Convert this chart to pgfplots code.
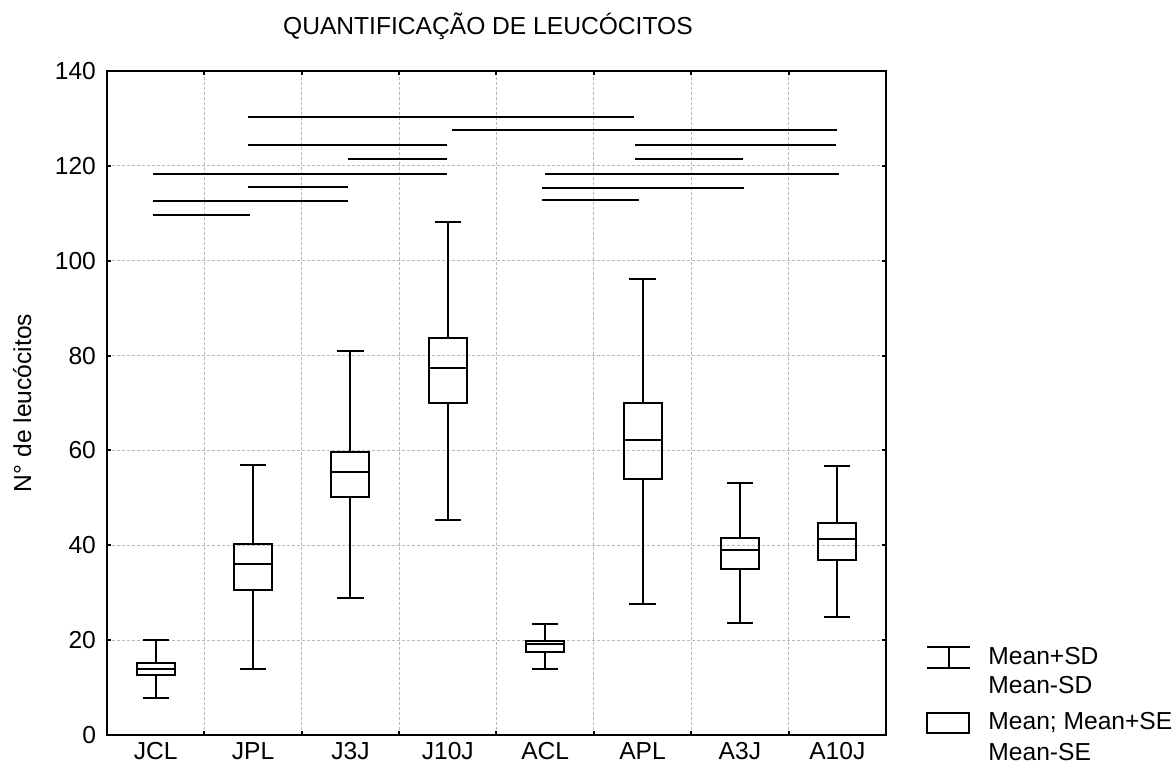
\documentclass[border=0pt]{standalone}
\usepackage{fontspec}
\setmainfont{Liberation Sans}
\usepackage{pgfplots}
\pgfplotsset{compat=1.18}

\pgfplotsset{
  bx/.style={black, solid, mark=none, line width=1pt, line join=miter, line cap=rect},
  sig/.style={black, line width=1pt, no marks},
}

% box: mean +- SE, whiskers: mean +- SD
% args: position, mean-SD, mean-SE, mean, mean+SE, mean+SD
\newcommand{\meanbox}[6]{%
  \pgfmathsetmacro{\xl}{#1-0.195}\pgfmathsetmacro{\xr}{#1+0.195}%
  \pgfmathsetmacro{\cl}{#1-0.125}\pgfmathsetmacro{\cr}{#1+0.125}%
  \edef\tmp{%
    \noexpand\addplot[bx] coordinates {(\xl,#3) (\xr,#3) (\xr,#5) (\xl,#5) (\xl,#3)};
    \noexpand\addplot[bx] coordinates {(\xl,#4) (\xr,#4)};
    \noexpand\addplot[bx] coordinates {(#1,#5) (#1,#6)};
    \noexpand\addplot[bx] coordinates {(#1,#2) (#1,#3)};
    \noexpand\addplot[bx] coordinates {(\cl,#6) (\cr,#6)};
    \noexpand\addplot[bx] coordinates {(\cl,#2) (\cr,#2)};
  }\tmp
}

\begin{document}
\begin{tikzpicture}[font=\fontsize{12.3}{14.8}\selectfont]
\useasboundingbox (0,0) rectangle (586.5pt,384.5pt);
\begin{axis}[
    scale only axis,
    width=389.5pt, height=332pt,
    at={(53.5pt,17pt)}, anchor=south west,
    xmin=-0.5, xmax=7.5, ymin=0, ymax=140,
    ytick={0,20,...,140},
    xtick={0,...,7},
    xticklabels={JCL,JPL,J3J,J10J,ACL,APL,A3J,A10J},
    minor xtick={0.5,1.5,...,6.5},
    major x tick style={draw=none},
    xmajorgrids=false, xminorgrids=true, ymajorgrids=true,
    grid style={gray!55, line width=0.5pt, dash pattern=on 1.5pt off 1pt},
    minor grid style={gray!55, line width=0.5pt, dash pattern=on 1.5pt off 1pt},
    tick pos=both, ticklabel pos=left, tick align=inside,
    major tick length=2pt, minor tick length=2pt,
    tick style={black, line width=1pt},
    axis line style={line width=1.1pt},
    /pgf/number format/assume math mode=true,
    xticklabel style={text height=8.8pt, text depth=0pt},
    yticklabel style={xshift=-2pt},
    ylabel={N° de leucócitos},
    ylabel style={at={(axis description cs:-0.109,0.5)}, anchor=center},
    title={QUANTIFICAÇÃO DE LEUCÓCITOS},
    title style={at={(axis description cs:0.489,1)}, anchor=base, yshift=12pt},
]
\meanbox{0}{7.8}{12.65}{14.0}{15.2}{20.0}
\meanbox{1}{13.85}{30.6}{36.0}{40.2}{56.9}
\meanbox{2}{28.95}{50.1}{55.5}{59.7}{80.9}
\meanbox{3}{45.3}{70.0}{77.3}{83.8}{108.2}
\meanbox{4}{13.9}{17.6}{19.1}{19.8}{23.5}
\meanbox{5}{27.7}{53.9}{62.3}{69.9}{96.1}
\meanbox{6}{23.7}{35.1}{38.9}{41.6}{53.2}
\meanbox{7}{24.9}{37.0}{41.3}{44.7}{56.8}

% significance bars
\addplot[sig] coordinates {(0.945,130.4) (4.91,130.4)};
\addplot[sig] coordinates {(3.04,127.6) (7.0,127.6)};
\addplot[sig] coordinates {(0.945,124.4) (2.99,124.4)};
\addplot[sig] coordinates {(4.92,124.4) (6.99,124.4)};
\addplot[sig] coordinates {(1.97,121.4) (2.99,121.4)};
\addplot[sig] coordinates {(4.92,121.4) (6.03,121.4)};
\addplot[sig] coordinates {(-0.03,118.3) (2.99,118.3)};
\addplot[sig] coordinates {(4.0,118.3) (7.02,118.3)};
\addplot[sig] coordinates {(0.945,115.5) (1.97,115.5)};
\addplot[sig] coordinates {(3.97,115.4) (6.04,115.4)};
\addplot[sig] coordinates {(-0.03,112.5) (1.97,112.5)};
\addplot[sig] coordinates {(3.97,112.8) (4.96,112.8)};
\addplot[sig] coordinates {(-0.03,109.7) (0.97,109.7)};
\end{axis}

% legend
\draw[line width=1pt] (463.5pt,61pt) -- (485pt,61pt)
  (463.5pt,50.5pt) -- (485pt,50.5pt)
  (474.5pt,61pt) -- (474.5pt,50.5pt);
\draw[line width=1pt] (463.5pt,17.8pt) rectangle (484.5pt,27.8pt);
\node[anchor=base west, inner sep=0pt] at (494pt,52pt) {Mean+SD};
\node[anchor=base west, inner sep=0pt] at (494pt,37.5pt) {Mean-SD};
\node[anchor=base west, inner sep=0pt] at (494pt,19.5pt) {Mean; Mean+SE};
\node[anchor=base west, inner sep=0pt] at (494pt,4pt) {Mean-SE};
\end{tikzpicture}
\end{document}
